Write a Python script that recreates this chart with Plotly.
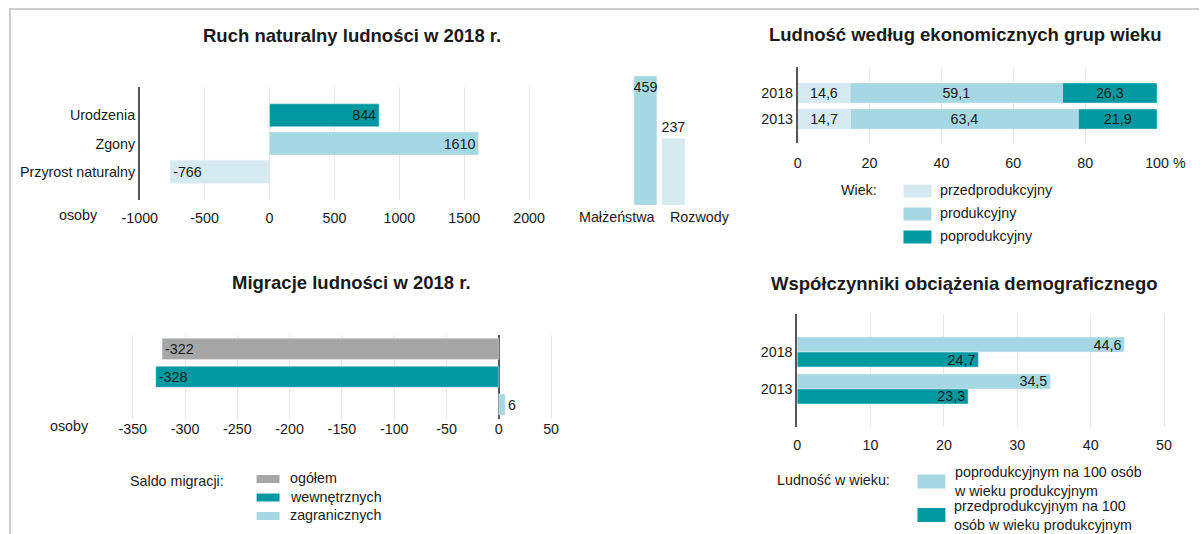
import plotly.graph_objects as go

W, H = 1200, 534
FIG_W = 1228

# ---------------- data ----------------
# Ruch naturalny ludności w 2018 r.
ruch_cats = ["Urodzenia", "Zgony", "Przyrost naturalny"]
ruch_vals = [844, 1610, -766]
ruch_tickvals = [-1000, -500, 0, 500, 1000, 1500, 2000]
ruch_ticktext = ["-1000", "-500", "0", "500", "1000", "1500", "2000"]

# Małżeństwa / Rozwody
mal_cats = ["Małżeństwa", "Rozwody"]
mal_vals = [459, 237]

# Ludność według ekonomicznych grup wieku
wiek_years = ["2018", "2013"]
wiek_groups = ["przedprodukcyjny", "produkcyjny", "poprodukcyjny"]
wiek_przed = [14.6, 14.7]
wiek_prod = [59.1, 63.4]
wiek_popro = [26.3, 21.9]
wiek_tickvals = [0, 20, 40, 60, 80, 100]
wiek_ticktext = ["0", "20", "40", "60", "80", "100"]

# Migracje ludności w 2018 r.
migr_cats = ["ogółem", "wewnętrznych", "zagranicznych"]
migr_vals = [-322, -328, 6]
migr_tickvals = [-350, -300, -250, -200, -150, -100, -50, 0, 50]
migr_ticktext = ["-350", "-300", "-250", "-200", "-150", "-100", "-50", "0", "50"]

# Współczynniki obciążenia demograficznego
obc_years = ["2018", "2013"]
obc_series = ["poprodukcyjnym na 100 osób<br>w wieku produkcyjnym",
              "przedprodukcyjnym na 100<br>osób w wieku produkcyjnym"]
obc_popro = [44.6, 34.5]
obc_przed = [24.7, 23.3]
obc_tickvals = [0, 10, 20, 30, 40, 50]
obc_ticktext = ["0", "10", "20", "30", "40", "50"]

# ---------------- style ----------------
TEAL = "#0099a1"
LIGHT = "#a6d8e3"
VLIGHT = "#d6ebf1"
GRAY = "#a6a6a6"
TXT = "#1a1a1a"
GRID = "#e8e8e8"
AXL = "#555555"
FONT = "Liberation Sans, Arial, sans-serif"
FS = 14.3
TS = 18.5


def px(x):
    return x / W


def py(y):
    return 1 - y / H


def fmt(v):
    s = ("%.1f" % v) if isinstance(v, float) else str(v)
    return s.replace(".", ",")


fig = go.Figure()

# Chart 1
fig.add_trace(go.Bar(
    y=ruch_cats, x=ruch_vals, orientation="h", xaxis="x", yaxis="y",
    marker=dict(color=[TEAL, LIGHT, VLIGHT]), width=0.81,
    text=[fmt(v) for v in ruch_vals], textposition="inside", insidetextanchor="end",
    insidetextfont=dict(color=TXT, size=FS), showlegend=False, hoverinfo="skip",
))

# Marriages / divorces
fig.add_trace(go.Bar(
    x=mal_cats, y=mal_vals, xaxis="x2", yaxis="y2",
    marker=dict(color=[LIGHT, VLIGHT]), width=0.82,
    text=[fmt(v) for v in mal_vals], textposition=["inside", "outside"], textangle=0,
    insidetextanchor="end", textfont=dict(color=TXT, size=FS),
    cliponaxis=False, showlegend=False, hoverinfo="skip",
))

# Chart 2 - stacked via base
wiek_cols = [VLIGHT, LIGHT, TEAL]
wiek_series = [wiek_przed, wiek_prod, wiek_popro]
base = [0.0] * len(wiek_years)
for name, vals, col in zip(wiek_groups, wiek_series, wiek_cols):
    fig.add_trace(go.Bar(
        y=wiek_years, x=vals, base=list(base), orientation="h", xaxis="x3", yaxis="y3",
        marker=dict(color=col), width=0.77, offsetgroup="w",
        text=[fmt(v) for v in vals], textposition="inside", insidetextanchor="middle",
        insidetextfont=dict(color=TXT, size=FS), name=name, showlegend=False, hoverinfo="skip",
    ))
    base = [b + v for b, v in zip(base, vals)]

# Chart 3
migr_cols = [GRAY, TEAL, LIGHT]
fig.add_trace(go.Bar(
    y=migr_cats, x=migr_vals, orientation="h", xaxis="x4", yaxis="y4",
    marker=dict(color=migr_cols), width=0.76,
    text=[fmt(v) for v in migr_vals], textposition=["inside", "inside", "outside"],
    insidetextanchor="end", textfont=dict(color=TXT, size=FS),
    cliponaxis=False, showlegend=False, hoverinfo="skip",
))

# Chart 4 - grouped
obc_cols = [LIGHT, TEAL]
for i, (name, vals, col) in enumerate(zip(obc_series, [obc_popro, obc_przed], obc_cols)):
    fig.add_trace(go.Bar(
        y=obc_years, x=vals, orientation="h", xaxis="x5", yaxis="y5",
        marker=dict(color=col), width=0.405, offset=-0.405 if i == 0 else 0.0,
        text=[fmt(v) for v in vals], textposition="inside", insidetextanchor="end",
        insidetextfont=dict(color=TXT, size=FS), name=name, showlegend=False, hoverinfo="skip",
    ))

# ---------------- axes ----------------
xcommon = dict(showgrid=True, gridcolor=GRID, gridwidth=1, zeroline=False, showline=False,
               ticks="", tickfont=dict(size=FS, color=TXT), tickmode="array", fixedrange=True)
ycat = dict(type="category", showgrid=False, zeroline=False, ticks="",
            tickfont=dict(size=FS, color=TXT), fixedrange=True, autorange=False)

fig.update_layout(
    xaxis=dict(xcommon, domain=[px(139), px(555)], range=[-1000, 2200],
               tickvals=ruch_tickvals, ticktext=ruch_ticktext, anchor="y", ticklabelstandoff=8),
    yaxis=dict(ycat, domain=[py(200), py(87)], range=[3.0, -1.0], anchor="x",
               categoryorder="array", categoryarray=ruch_cats,
               showline=True, linecolor=AXL, linewidth=1.5),
    xaxis2=dict(type="category", domain=[px(631.5), px(687.5)], range=[-0.5, 1.5],
                showticklabels=False, showgrid=False, zeroline=False, showline=False,
                anchor="y2", fixedrange=True),
    yaxis2=dict(domain=[py(205), py(205 - 480 * 0.281)], range=[0, 480], visible=False,
                anchor="x2", fixedrange=True),
    xaxis3=dict(xcommon, domain=[px(798), px(1158)], range=[0, 100],
                tickvals=wiek_tickvals, ticktext=wiek_ticktext, anchor="y3", ticklabelstandoff=10),
    yaxis3=dict(ycat, domain=[py(143), py(67)], range=[1.92, -1.0], anchor="x3",
                categoryorder="array", categoryarray=wiek_years,
                showline=True, linecolor=AXL, linewidth=1.5),
    xaxis4=dict(xcommon, domain=[px(121.5), px(561.5)], range=[-360, 60],
                tickvals=migr_tickvals, ticktext=migr_ticktext, anchor="y4",
                zeroline=True, zerolinecolor=AXL, zerolinewidth=1.5, ticklabelstandoff=0),
    yaxis4=dict(ycat, domain=[py(419), py(335)], range=[2.52, -0.5], anchor="x4",
                categoryorder="array", categoryarray=migr_cats, showticklabels=False),
    xaxis5=dict(xcommon, domain=[px(797.5), px(1179.7)], range=[0, 52],
                tickvals=obc_tickvals, ticktext=obc_ticktext, anchor="y5", ticklabelstandoff=8),
    yaxis5=dict(ycat, domain=[py(427), py(314)], range=[2.03, -1.03], anchor="x5",
                categoryorder="array", categoryarray=obc_years,
                showline=True, linecolor=AXL, linewidth=1.5),
)

# ---------------- annotations / legends ----------------
ann = []
shapes = []


def text(x, y, s, xanchor="center", size=FS, bold=False, **kw):
    d = dict(x=px(x), y=py(y), xref="paper", yref="paper", text=("<b>%s</b>" % s) if bold else s,
             showarrow=False, xanchor=xanchor, yanchor="middle",
             font=dict(size=size, color=TXT, family=FONT), align="left")
    d.update(kw)
    ann.append(d)


text(352, 35, "Ruch naturalny ludności w 2018 r.", size=TS, bold=True)
text(966, 34, "Ludność według ekonomicznych grup wieku", size=TS, bold=True)
text(351, 282, "Migracje ludności w 2018 r.", size=TS, bold=True)
text(965, 283, "Współczynniki obciążenia demograficznego", size=TS, bold=True)

text(78, 215, "osoby")
text(69, 426, "osoby")
text(1180, 163, "%")

# marriage category labels
ann.append(dict(x=mal_cats[0], y=py(217), xref="x2", yref="paper", text=mal_cats[0],
                showarrow=False, xanchor="right", yanchor="middle", xshift=11.5,
                font=dict(size=FS, color=TXT, family=FONT)))
ann.append(dict(x=mal_cats[1], y=py(217), xref="x2", yref="paper", text=mal_cats[1],
                showarrow=False, xanchor="left", yanchor="middle", xshift=-5.5,
                font=dict(size=FS, color=TXT, family=FONT)))


def swatch(x0, x1, yc, h, col):
    shapes.append(dict(type="rect", xref="paper", yref="paper", x0=px(x0), x1=px(x1),
                       y0=py(yc + h / 2), y1=py(yc - h / 2), fillcolor=col, line=dict(width=0)))


# legend chart 2
text(879, 190, "Wiek:", xanchor="right")
for i, (name, col) in enumerate(zip(wiek_groups, wiek_cols)):
    yc = [191, 214, 237][i]
    swatch(904, 932, yc, 13, col)
    text(939, yc - 1, name, xanchor="left")

# legend chart 3
text(127, 481, "Saldo migracji:", xanchor="left")
for i, (name, col) in enumerate(zip(migr_cats, migr_cols)):
    yc = [479, 497.5, 516][i]
    swatch(256, 279, yc, 8, col)
    text(287, yc - 1, name, xanchor="left")

# legend chart 4
text(892, 480, "Ludność w wieku:", xanchor="right")
for i, (name, col) in enumerate(zip(obc_series, obc_cols)):
    yc = [481.5, 515][i]
    swatch(918, 946, yc, 14, col)
    text(953, yc, name, xanchor="left")

# frame lines
shapes.append(dict(type="line", xref="paper", yref="paper", x0=px(8), x1=px(1200),
                   y0=py(9), y1=py(9), line=dict(color="#cfcfcf", width=2)))
shapes.append(dict(type="line", xref="paper", yref="paper", x0=px(9), x1=px(9),
                   y0=py(9), y1=py(534), line=dict(color="#cfcfcf", width=2)))

fig.update_layout(
    width=FIG_W, height=H, autosize=False, margin=dict(l=0, r=0, t=0, b=0),
    paper_bgcolor="white", plot_bgcolor="white",
    font=dict(family=FONT, size=FS, color=TXT),
    barmode="group", bargap=0.19, bargroupgap=0,
    uniformtext=dict(minsize=FS, mode="show"),
    annotations=ann, shapes=shapes, showlegend=False,
)

fig.write_html(
    "out.html",
    config={"responsive": False, "displayModeBar": False},
    post_script=("document.body.style.margin='0px';"
                 "document.body.style.marginLeft='-17px';"
                 "document.body.style.overflow='hidden';"),
)
